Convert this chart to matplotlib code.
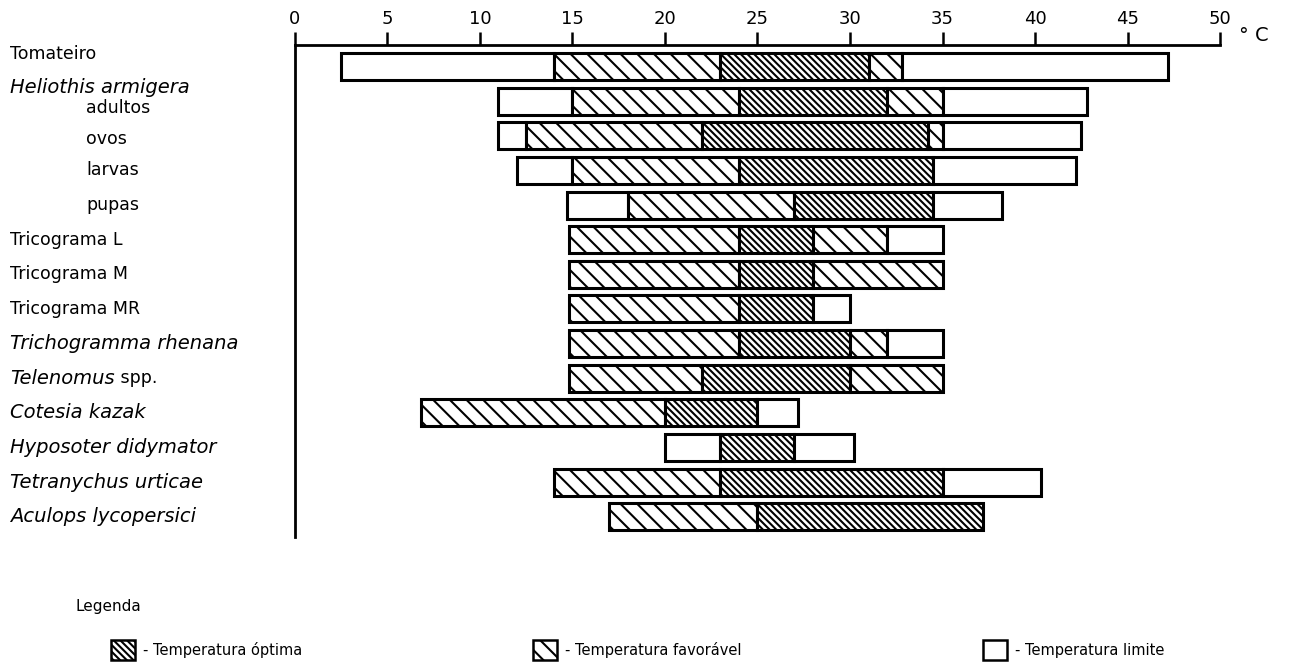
"""
Faixas de temperatura do tomateiro, da praga e dos seus inimigos naturais
"""
import numpy as np
import matplotlib.pyplot as plt
import matplotlib.transforms as mtransforms
from matplotlib.patches import Rectangle

plt.rcParams["hatch.linewidth"] = 1.5
plt.rcParams["font.family"] = "DejaVu Sans"

# One row per bar, top to bottom
rows = ["Tomateiro", "adultos", "ovos", "larvas", "pupas",
        "Tricograma L", "Tricograma M", "Tricograma MR",
        "Trichogramma rhenana", "Telenomus spp.", "Cotesia kazak",
        "Hyposoter didymator", "Tetranychus urticae", "Aculops lycopersici"]

# Temperature limits (°C): limite < favoravel < optima < favoravel < limite
lim_min = [2.5, 11.0, 11.0, 12.0, 14.7, 14.8, 14.8, 14.8, 14.8, 14.8, 6.8, 20.0, 14.0, 17.0]
fav_min = [14.0, 15.0, 12.5, 15.0, 18.0, 14.8, 14.8, 14.8, 14.8, 14.8, 6.8, 23.0, 14.0, 17.0]
opt_min = [23.0, 24.0, 22.0, 24.0, 27.0, 24.0, 24.0, 24.0, 24.0, 22.0, 20.0, 23.0, 23.0, 25.0]
opt_max = [31.0, 32.0, 34.2, 34.5, 34.5, 28.0, 28.0, 28.0, 30.0, 30.0, 25.0, 27.0, 35.0, 37.2]
fav_max = [32.8, 35.0, 35.0, 34.5, 34.5, 32.0, 35.0, 28.0, 32.0, 35.0, 25.0, 27.0, 35.0, 37.2]
lim_max = [47.2, 42.8, 42.5, 42.2, 38.2, 35.0, 35.0, 30.0, 35.0, 35.0, 27.2, 30.2, 40.3, 37.2]

xticks = list(range(0, 55, 5))

HATCH = {"lim": "", "fav": "\\\\", "opt": "\\\\\\\\\\"}

fig = plt.figure(figsize=(13.04, 6.62), dpi=100)
ax = fig.add_axes([0.2262, 0.189, 0.7094, 0.743])

y = np.arange(len(rows))
height = 0.78
for i in y:
    edges = [lim_min[i], fav_min[i], opt_min[i], opt_max[i], fav_max[i], lim_max[i]]
    kinds = ["lim", "fav", "opt", "fav", "lim"]
    for left, right, kind in zip(edges[:-1], edges[1:], kinds):
        if right - left <= 0:
            continue
        ax.barh(i, right - left, left=left, height=height, color="white",
                edgecolor="black", linewidth=2.2, hatch=HATCH[kind])

ax.set_xlim(0, 50)
ax.set_ylim(len(rows) - 1 + 0.58, -0.62)
ax.xaxis.tick_top()
ax.set_xticks(xticks)
ax.set_xticklabels([str(t) for t in xticks], fontsize=13)
ax.tick_params(axis="x", direction="out", length=9.5, width=1.8, pad=3)
ax.set_yticks([])
for side in ("right", "bottom"):
    ax.spines[side].set_visible(False)
ax.spines["top"].set_linewidth(2)
ax.spines["left"].set_linewidth(2)
ax.text(51.0, -0.62, "° C", transform=ax.transData, fontsize=14,
        ha="left", va="bottom")

# Row names on the left, in figure x and data y
trans = mtransforms.blended_transform_factory(fig.transFigure, ax.transData)
label_y = [-0.35, 1.2, 2.1, 3.0, 4.0, 5, 6, 7, 8, 9, 10, 11, 12, 13]
indent = [False, True, True, True, True] + [False] * 9
italic = [False] * 8 + [True] * 6
roman = dict(fontsize=12.5, va="center")
slanted = dict(fontsize=14, style="italic", va="center")
for name, ly, ind, it in zip(rows, label_y, indent, italic):
    x0 = 0.066 if ind else 0.008
    if name == "Telenomus spp.":
        t = ax.text(x0, ly, "Telenomus", transform=trans, **slanted)
        ax.annotate(" spp.", xycoords=t, xy=(1, 0.5), va="center",
                    fontsize=12.5)
        continue
    ax.text(x0, ly, name, transform=trans, **(slanted if it else roman))
ax.text(0.008, 0.62, "Heliothis armigera", transform=trans, **slanted)

# Legend
fig.text(0.058, 1 - 607 / 662, "Legenda", fontsize=11, va="center")
legend_items = [("opt", "- Temperatura óptima"),
                ("fav", "- Temperatura favorável"),
                ("lim", "- Temperatura limite")]
sw_x = [111, 533, 983]
for (kind, text), px in zip(legend_items, sw_x):
    fig.add_artist(Rectangle((px / 1304, 1 - 660 / 662), 24 / 1304, 20 / 662,
                             transform=fig.transFigure, facecolor="white",
                             edgecolor="black", linewidth=1.8,
                             hatch=HATCH[kind]))
    fig.text((px + 32) / 1304, 1 - 650 / 662, text, fontsize=10.5, va="center")

fig.savefig("out.png", dpi=100)
